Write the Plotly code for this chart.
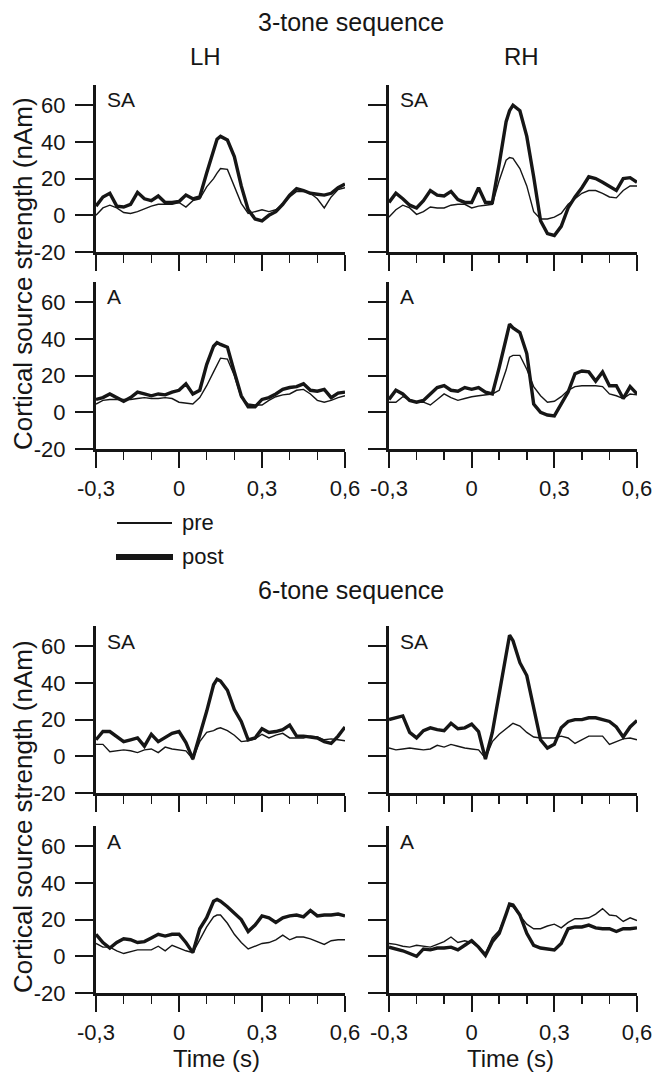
import plotly.graph_objects as go

# ---------------- data ----------------
time = [-0.3, -0.275, -0.25, -0.225, -0.2, -0.175, -0.15, -0.125, -0.1, -0.075,
        -0.05, -0.025, 0.0, 0.025, 0.05, 0.075, 0.1, 0.125, 0.1375, 0.15, 0.175,
        0.2, 0.225, 0.25, 0.275, 0.3, 0.325, 0.35, 0.375, 0.4, 0.425, 0.45,
        0.475, 0.5, 0.525, 0.55, 0.575, 0.6]

time_tickvals = [-0.3, 0.0, 0.3, 0.6]
time_ticktext = ["-0,3", "0", "0,3", "0,6"]
amp_tickvals = [-20, 0, 20, 40, 60]
amp_ticktext = ["-20", "0", "20", "40", "60"]

# 3-tone sequence
tone3_LH_SA_pre = [0, 4, 5.5, 4, 1.5, 1, 2, 3.5, 5, 6, 6, 6, 7, 4.5, 8,
                   9, 15.5, 20, 23, 25.5, 25, 15.5, 6.5, 1, 2, 3, 2, 3, 6, 10, 13, 13, 12, 9, 4, 10, 14, 15]
tone3_LH_SA_post = [5, 10, 12, 5, 4.5, 6, 12.5, 9, 8, 10.5, 7, 7, 7.5, 11, 9,
                    10, 23, 36, 41.5, 43, 41, 32, 16, 3, -2, -3, 0, 2, 6, 11, 14.5, 13.5, 12, 11.5, 11, 12, 15, 17]
tone3_RH_SA_pre = [-1, 3, 5.5, 4, 0.5, 2, 4.5, 4, 4, 5.5, 6, 6, 4, 5, 5.5,
                   6, 19, 30, 31.5, 31, 25.5, 16, 2, -2, -2, -1, 1, 6, 9, 12, 13.5, 13.5, 12, 10, 9.5, 13.5, 16, 16]
tone3_RH_SA_post = [7, 12, 9, 5.5, 4, 8, 13.5, 11, 10.5, 13, 8.5, 7, 7, 15, 7,
                    7, 28, 51, 57, 60, 57, 43, 21, -3, -10, -11, -6, 4, 10, 15, 21, 20, 18, 15.5, 13.5, 20, 20.5, 18]
tone3_LH_A_pre = [4.5, 6.5, 7, 7, 7, 7, 7.5, 8, 7.5, 7.5, 8, 7.5, 5.5, 5, 4.5,
                  8, 14.5, 22, 26, 29.5, 29, 20, 8, 4.5, 4, 4, 6.5, 8.5, 9.5, 10, 12, 12.5, 10, 6.5, 5.5, 6.5, 8, 9]
tone3_LH_A_post = [7, 8, 10, 8, 6, 8, 11, 10, 9, 10, 9.5, 11, 12, 15.5, 10,
                   12, 26, 36, 38, 37, 35.5, 22, 9, 3, 3, 7, 8, 10, 12.5, 13.5, 14, 15.5, 12, 11.5, 12.5, 8, 10.5, 11]
tone3_RH_A_pre = [5.5, 5.5, 8.5, 7, 5.5, 5.5, 4, 7, 10, 8, 6.5, 7.5, 8.5, 9, 9.5,
                  10, 12, 23, 30, 31, 31, 23.5, 14, 9, 5.5, 6, 8.5, 12, 14, 14.5, 14.5, 14.5, 14, 10, 9, 7.5, 10, 9.5]
tone3_RH_A_post = [7, 12, 10, 6.5, 5.5, 6.5, 10, 13.5, 14.5, 12, 11.5, 13.5, 12.5, 13.5, 11,
                   10, 24.5, 41, 48, 46, 43.5, 32, 4.5, 0, -1.5, -2, 4.5, 11, 21, 22.5, 22, 17, 22, 14.5, 14.5, 7.5, 14, 10]

# 6-tone sequence
tone6_LH_SA_pre = [6.5, 6.5, 2.5, 3, 3.5, 3, 2, 3.5, 4, 2, 5, 4, 3.5, 3, -1.5,
                   8, 13, 14, 15, 15.5, 14, 11.5, 8, 8.5, 9.5, 12, 10, 11.5, 12.5, 10, 10, 10, 11, 10.5, 9, 9.5, 9, 8.5]
tone6_LH_SA_post = [9, 13.5, 13.5, 10.5, 8, 9, 10, 5.5, 12, 8, 10, 12.5, 13.5, 7.5, -1.5,
                    11, 24.5, 39, 42, 41, 36, 25.5, 19, 9, 10, 15, 13, 13.5, 14.5, 17, 11, 11, 10.5, 10, 8, 7, 11, 16]
tone6_RH_SA_pre = [4.5, 3.5, 4, 4.5, 4, 3.5, 4, 6, 5, 6.5, 5.5, 4.5, 4, 3.5, -1,
                   8, 12, 15, 17, 18, 16.5, 13, 10.5, 10, 10, 10, 11, 10, 7, 9, 11, 11, 11, 6.5, 8, 9.5, 10, 9]
tone6_RH_SA_post = [20, 21, 22, 13, 10, 14, 15.5, 14.5, 14, 18, 15, 15.5, 17.5, 13.5, -1.5,
                    13, 35, 56, 66, 63, 51, 44, 26, 9, 4.5, 6.5, 15.5, 19, 20, 20, 21, 21, 20, 19, 16, 10.5, 16, 19.5]
tone6_LH_A_pre = [7, 5, 5, 3, 1.5, 2.5, 3.5, 3.5, 3.5, 5.5, 3, 6, 4.5, 3, 2,
                  9, 16, 21.5, 22.5, 22.5, 18, 12, 7.5, 4, 5.5, 7, 7.5, 9, 11.5, 9, 10.5, 10.5, 9.5, 8, 6.5, 8.5, 9, 9]
tone6_LH_A_post = [12, 7.5, 4.5, 7.5, 9.5, 9, 7.5, 8, 10, 12, 11, 12, 12, 7.5, 2,
                   15, 21, 30, 31, 30, 27, 23.5, 20, 13.5, 17, 22, 21, 18.5, 21, 22, 22.5, 21.5, 25, 22, 22.5, 22.5, 23, 22]
tone6_RH_A_pre = [7, 6.5, 5.5, 5, 6, 5.5, 5, 6.5, 8, 10.5, 7.5, 8.5, 7.5, 5, 1.5,
                  10, 14, 23, 27.5, 27, 22.5, 17.5, 15, 15, 16.5, 17.5, 15.5, 18.5, 20.5, 20.5, 21, 23, 26, 22.5, 22, 19, 21, 19.5]
tone6_RH_A_post = [5, 4, 3, 1.5, 0, 4, 3.5, 4.5, 4.5, 5, 3.5, 6, 8.5, 5, 0.5,
                   8, 12.5, 23, 28.5, 28, 22.5, 12.5, 6, 4.5, 4, 3.5, 7, 15, 16, 16, 17, 15.5, 15, 15, 13.5, 15, 15, 15.5]

panel_labels = ["SA", "SA", "A", "A", "SA", "SA", "A", "A"]
panel_series = [
    (tone3_LH_SA_pre, tone3_LH_SA_post), (tone3_RH_SA_pre, tone3_RH_SA_post),
    (tone3_LH_A_pre, tone3_LH_A_post), (tone3_RH_A_pre, tone3_RH_A_post),
    (tone6_LH_SA_pre, tone6_LH_SA_post), (tone6_RH_SA_pre, tone6_RH_SA_post),
    (tone6_LH_A_pre, tone6_LH_A_post), (tone6_RH_A_pre, tone6_RH_A_post),
]

# ---------------- layout geometry (pixels) ----------------
W, H = 657, 1078
FONT = "Liberation Sans, Arial, Helvetica, sans-serif"
INK = "#161616"

def fx(p):
    return p / W

def fy(p):
    return 1 - p / H

col_px = [(96, 345), (389, 637)]
row_px = [(85, 252), (282, 449), (626, 793), (826, 993)]

fig = go.Figure()
layout = dict(
    template="none",
    width=W, height=H, margin=dict(l=0, r=0, t=0, b=0, pad=0), autosize=False,
    paper_bgcolor="white", plot_bgcolor="white", showlegend=False,
    font=dict(family=FONT, color=INK),
)

annotations = []
shapes = []

for i in range(8):
    r, c = divmod(i, 2)
    xa = "x" if i == 0 else f"x{i+1}"
    ya = "y" if i == 0 else f"y{i+1}"
    pre, post = panel_series[i]
    fig.add_trace(go.Scatter(x=time, y=pre, mode="lines", xaxis=xa, yaxis=ya,
                             line=dict(color=INK, width=1.4), name="pre"))
    fig.add_trace(go.Scatter(x=time, y=post, mode="lines", xaxis=xa, yaxis=ya,
                             line=dict(color=INK, width=3.4), name="post"))
    x0, x1 = col_px[c]
    top, bot = row_px[r]
    show_x = r in (1, 3)
    show_y = c == 0
    layout["xaxis" if i == 0 else f"xaxis{i+1}"] = dict(
        domain=[fx(x0), fx(x1)], range=[-0.3, 0.6], anchor=ya, automargin=False,
        showline=True, linecolor=INK, linewidth=3, mirror=False,
        ticks="outside", ticklen=16, tickwidth=2, tickcolor=INK,
        tickmode="array", tickvals=time_tickvals, ticktext=time_ticktext,
        showticklabels=show_x, ticklabelstandoff=2,
        tickfont=dict(family=FONT, size=22, color=INK),
        minor=dict(ticks="outside", ticklen=8, tickwidth=1.6, tickcolor=INK,
                   tickmode="linear", tick0=-0.3, dtick=0.1, showgrid=False),
        showgrid=False, zeroline=False, fixedrange=True,
    )
    layout["yaxis" if i == 0 else f"yaxis{i+1}"] = dict(
        domain=[fy(bot), fy(top)], range=[-20, 71], anchor=xa, automargin=False,
        showline=True, linecolor=INK, linewidth=3,
        ticks="outside", ticklen=18, tickwidth=2, tickcolor=INK,
        tickmode="array", tickvals=amp_tickvals, ticktext=amp_ticktext,
        showticklabels=show_y, ticklabelstandoff=5,
        tickfont=dict(family=FONT, size=22, color=INK),
        showgrid=False, zeroline=False, fixedrange=True,
    )
    annotations.append(dict(text=panel_labels[i], xref="paper", yref="paper",
                            x=fx(x0 + 9), y=fy(top + 15), xanchor="left", yanchor="middle",
                            showarrow=False, font=dict(family=FONT, size=21, color=INK)))


def ann(text, x, y, size, xanchor="center", angle=0):
    annotations.append(dict(text=text, xref="paper", yref="paper", x=fx(x), y=fy(y),
                            xanchor=xanchor, yanchor="middle", showarrow=False,
                            textangle=angle, font=dict(family=FONT, size=size, color=INK)))

ann("3-tone sequence", 351, 22, 25)
ann("LH", 205, 57, 24)
ann("RH", 521, 57, 24)
ann("6-tone sequence", 351, 590, 25)
ann("Cortical source strength (nAm)", 23, 274, 26, angle=-90)
ann("Cortical source strength (nAm)", 23, 817, 26, angle=-90)
ann("Time (s)", 216, 1058, 24)
ann("Time (s)", 510, 1058, 24)
ann("pre", 180, 522, 22, xanchor="left")
ann("post", 180, 556, 22, xanchor="left")

shapes.append(dict(type="line", xref="paper", yref="paper", x0=fx(117), x1=fx(172),
                   y0=fy(523), y1=fy(523), line=dict(color=INK, width=2)))
shapes.append(dict(type="line", xref="paper", yref="paper", x0=fx(116), x1=fx(173),
                   y0=fy(557), y1=fy(557), line=dict(color=INK, width=6)))

layout["annotations"] = annotations
layout["shapes"] = shapes
fig.update_layout(**layout)

fig.write_html(
    "out.html",
    config={"displayModeBar": False, "staticPlot": True},
    post_script="document.body.style.margin='0';document.body.style.padding='0';"
                "document.body.style.overflow='hidden';"
                "document.documentElement.style.overflow='hidden';",
)
